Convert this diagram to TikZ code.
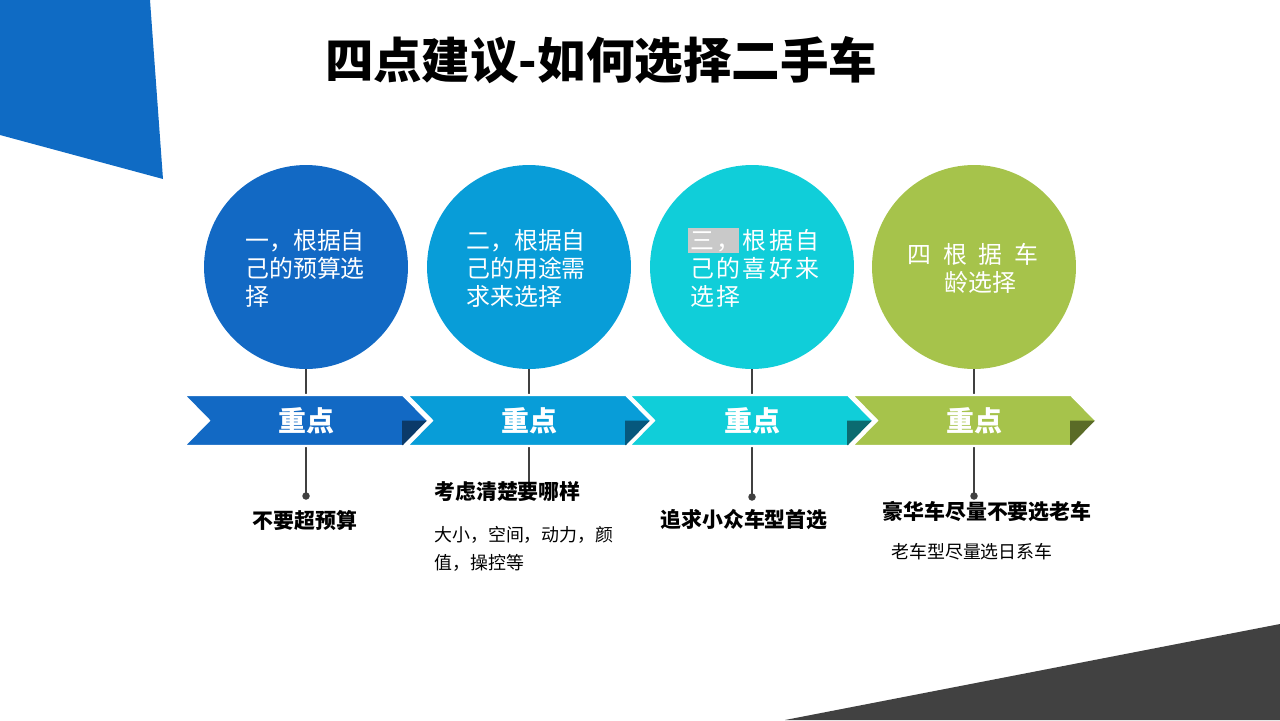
\documentclass[tikz,border=0pt]{standalone}
\usepackage{fontspec}
\setmainfont{Noto Sans CJK SC}
\usetikzlibrary{positioning}

\definecolor{cornerblue}{HTML}{0F6BC4}
\definecolor{cornergray}{HTML}{414141}
\definecolor{stemgray}{HTML}{404040}
\definecolor{cA}{HTML}{1269C4}
\definecolor{cB}{HTML}{089DD8}
\definecolor{cC}{HTML}{10CED9}
\definecolor{cD}{HTML}{A6C34B}
\definecolor{dA}{HTML}{0B3A69}
\definecolor{dB}{HTML}{06587D}
\definecolor{dC}{HTML}{0B6B70}
\definecolor{dD}{HTML}{5A6B27}
\definecolor{marker}{HTML}{C9C9C9}

\begin{document}
\begin{tikzpicture}[x=0.02cm, y=-0.02cm,
  bubble/.style={shape=circle, minimum size=4.08cm, inner sep=0pt, draw=none},
  stem/.style={draw=stemgray, line width=0.6pt},
  pindot/.style={shape=circle, fill=stemgray, minimum size=0.15cm, inner sep=0pt},
  chevron/.style={draw=white, line width=1.2pt, line join=miter},
  keylbl/.style={text=white, font=\fontsize{15.9pt}{18pt}\selectfont\bfseries, inner sep=0pt},
  bubbletext/.style={text=white, align=left, inner sep=0pt, font=\fontsize{13.6pt}{15.9pt}\selectfont},
  boldnote/.style={inner sep=0pt, font=\fontsize{11.9pt}{14pt}\selectfont\bfseries},
  plainnote/.style={inner sep=0pt, align=left, font=\fontsize{10.2pt}{15.9pt}\selectfont}]
  \useasboundingbox (0,0) rectangle (1280,720);
  % corner shapes
  \fill[cornerblue] (0,0) -- (150,0) -- (163,179) -- (0,135) -- cycle;
  \fill[cornergray] (785,720) -- (1280,624) -- (1280,720) -- cycle;
  % title
  \node[inner sep=0pt, font=\fontsize{27.6pt}{31pt}\selectfont\bfseries] (title) at (601,60) {四点建议-如何选择二手车};
  % circles
  \node[bubble, fill=cA] (C1) at (306,267) {};
  \node[bubble, fill=cB] (C2) at (529,267) {};
  \node[bubble, fill=cC] (C3) at (752,267) {};
  \node[bubble, fill=cD] (C4) at (974,267) {};
  % stems and dots
  \node[pindot] (P1) at (306,496) {};
  \coordinate (P2) at (529,488);
  \node[pindot] (P3) at (752,497) {};
  \node[pindot] (P4) at (974,496) {};
  \draw[stem] (C1.south) -- (P1.center);
  \draw[stem] (C2.south) -- (P2);
  \draw[stem] (C3.south) -- (P3.center);
  \draw[stem] (C4.south) -- (P4.center);
  % band
  \filldraw[chevron, fill=cA] (184,395) -- (403,395) -- (428,420.5) -- (403,446) -- (184,446) -- (209,420.5) -- cycle;
  \filldraw[chevron, fill=cB] (407,395) -- (626,395) -- (651,420.5) -- (626,446) -- (407,446) -- (432,420.5) -- cycle;
  \filldraw[chevron, fill=cC] (629,395) -- (848,395) -- (873,420.5) -- (848,446) -- (629,446) -- (654,420.5) -- cycle;
  \filldraw[chevron, fill=cD] (852,395) -- (1071,395) -- (1096,420.5) -- (1071,446) -- (852,446) -- (877,420.5) -- cycle;
  \fill[dA] (402,420.5) -- (427,420.5) -- (403,445) -- (402,445) -- cycle;
  \fill[dB] (625,420.5) -- (650,420.5) -- (626,445) -- (625,445) -- cycle;
  \fill[dC] (847,420.5) -- (872,420.5) -- (848,445) -- (847,445) -- cycle;
  \fill[dD] (1070,420.5) -- (1095,420.5) -- (1071,445) -- (1070,445) -- cycle;
  \node[keylbl] (K1) at (306,420.5) {重点};
  \node[keylbl] (K2) at (529,420.5) {重点};
  \node[keylbl] (K3) at (752,420.5) {重点};
  \node[keylbl] (K4) at (974,420.5) {重点};
  % circle texts
  \fill[marker] (688,228) rectangle (739,253);
  \node[bubbletext, anchor=west] (T1) at (245,268) {一，根据自\\己的预算选\\择};
  \node[bubbletext, anchor=west] (T2) at (466,268) {二，根据自\\己的用途需\\求来选择};
  \node[bubbletext, anchor=west] (T3) at (690,268) {\addfontfeature{LetterSpace=10}三，根据自\\\addfontfeature{LetterSpace=10}己的喜好来\\\addfontfeature{LetterSpace=10}选择};
  \node[bubbletext, align=center] (T4) at (973,268) {四\hspace{0.5em}根\hspace{0.5em}据\hspace{0.5em}车\\\hspace{0.6em}龄选择};
  % notes below
  \node[boldnote] (N1) at (305,521) {不要超预算};
  \node[boldnote, anchor=west] (N2) at (434,492) {考虑清楚要哪样};
  \node[plainnote, anchor=west] (N2b) at (434,549) {大小，空间，动力，颜\\值，操控等};
  \node[boldnote] (N3) at (744,520) {追求小众车型首选};
  \node[boldnote] (N4) at (987,512) {豪华车尽量不要选老车};
  \node[plainnote, anchor=west] (N4b) at (891,552) {老车型尽量选日系车};
\end{tikzpicture}
\end{document}
